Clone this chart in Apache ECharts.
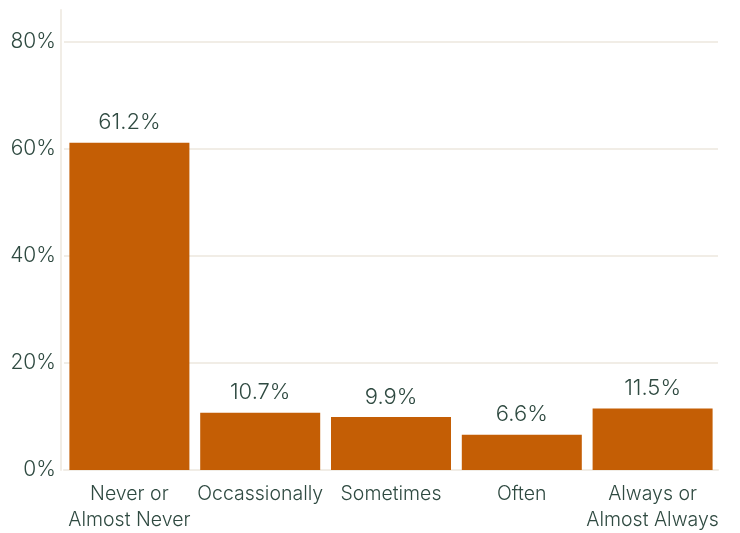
<!DOCTYPE html>
<html>
<head>
<meta charset="utf-8">
<script src="https://cdn.jsdelivr.net/npm/echarts@6/dist/echarts.min.js"></script>
<style>
  html, body { margin: 0; padding: 0; background: #ffffff; overflow: hidden; }
  #chart { width: 740px; height: 533px; }
</style>
</head>
<body>
<div id="chart"></div>
<script>
// Response categories and their share of respondents (%)
const categories = ['Never or\nAlmost Never', 'Occassionally', 'Sometimes', 'Often', 'Always or\nAlmost Always'];
const shares = [61.2, 10.7, 9.9, 6.6, 11.5];
const yTicks = [0, 20, 40, 60, 80];

const textColor = '#2f4a41';
const lineColor = '#f1ede6';
const fontFamily = 'Inter, "Liberation Sans", sans-serif';

const chart = echarts.init(document.getElementById('chart'), null, { renderer: 'canvas' });

chart.setOption({
  animation: false,
  grid: { left: 64, right: 22, top: 10, bottom: 59 },
  xAxis: {
    type: 'category',
    data: categories,
    axisLine: { lineStyle: { color: lineColor, width: 2 } },
    axisTick: { show: false },
    axisLabel: {
      color: textColor,
      fontSize: 19.5,
      fontWeight: 300,
      fontFamily: fontFamily,
      lineHeight: 26,
      margin: 11,
      interval: 0
    }
  },
  yAxis: {
    type: 'value',
    min: yTicks[0],
    max: 86,
    interval: 20,
    offset: 3,
    axisLine: { show: true, lineStyle: { color: lineColor, width: 2 } },
    axisTick: { show: false },
    splitLine: { show: true, showMaxLine: false, lineStyle: { color: lineColor, width: 2 } },
    axisLabel: {
      color: textColor,
      fontSize: 21,
      fontWeight: 300,
      fontFamily: fontFamily,
      margin: 5,
      showMaxLabel: false,
      formatter: v => yTicks.includes(v) ? v + '%' : ''
    }
  },
  series: [{
    type: 'bar',
    data: shares,
    barWidth: 120,
    itemStyle: { color: '#c45e05' },
    label: {
      show: true,
      position: 'top',
      distance: 9,
      color: textColor,
      fontSize: 22,
      fontWeight: 300,
      fontFamily: fontFamily,
      formatter: p => p.value.toFixed(1) + '%'
    }
  }]
});
</script>
</body>
</html>
